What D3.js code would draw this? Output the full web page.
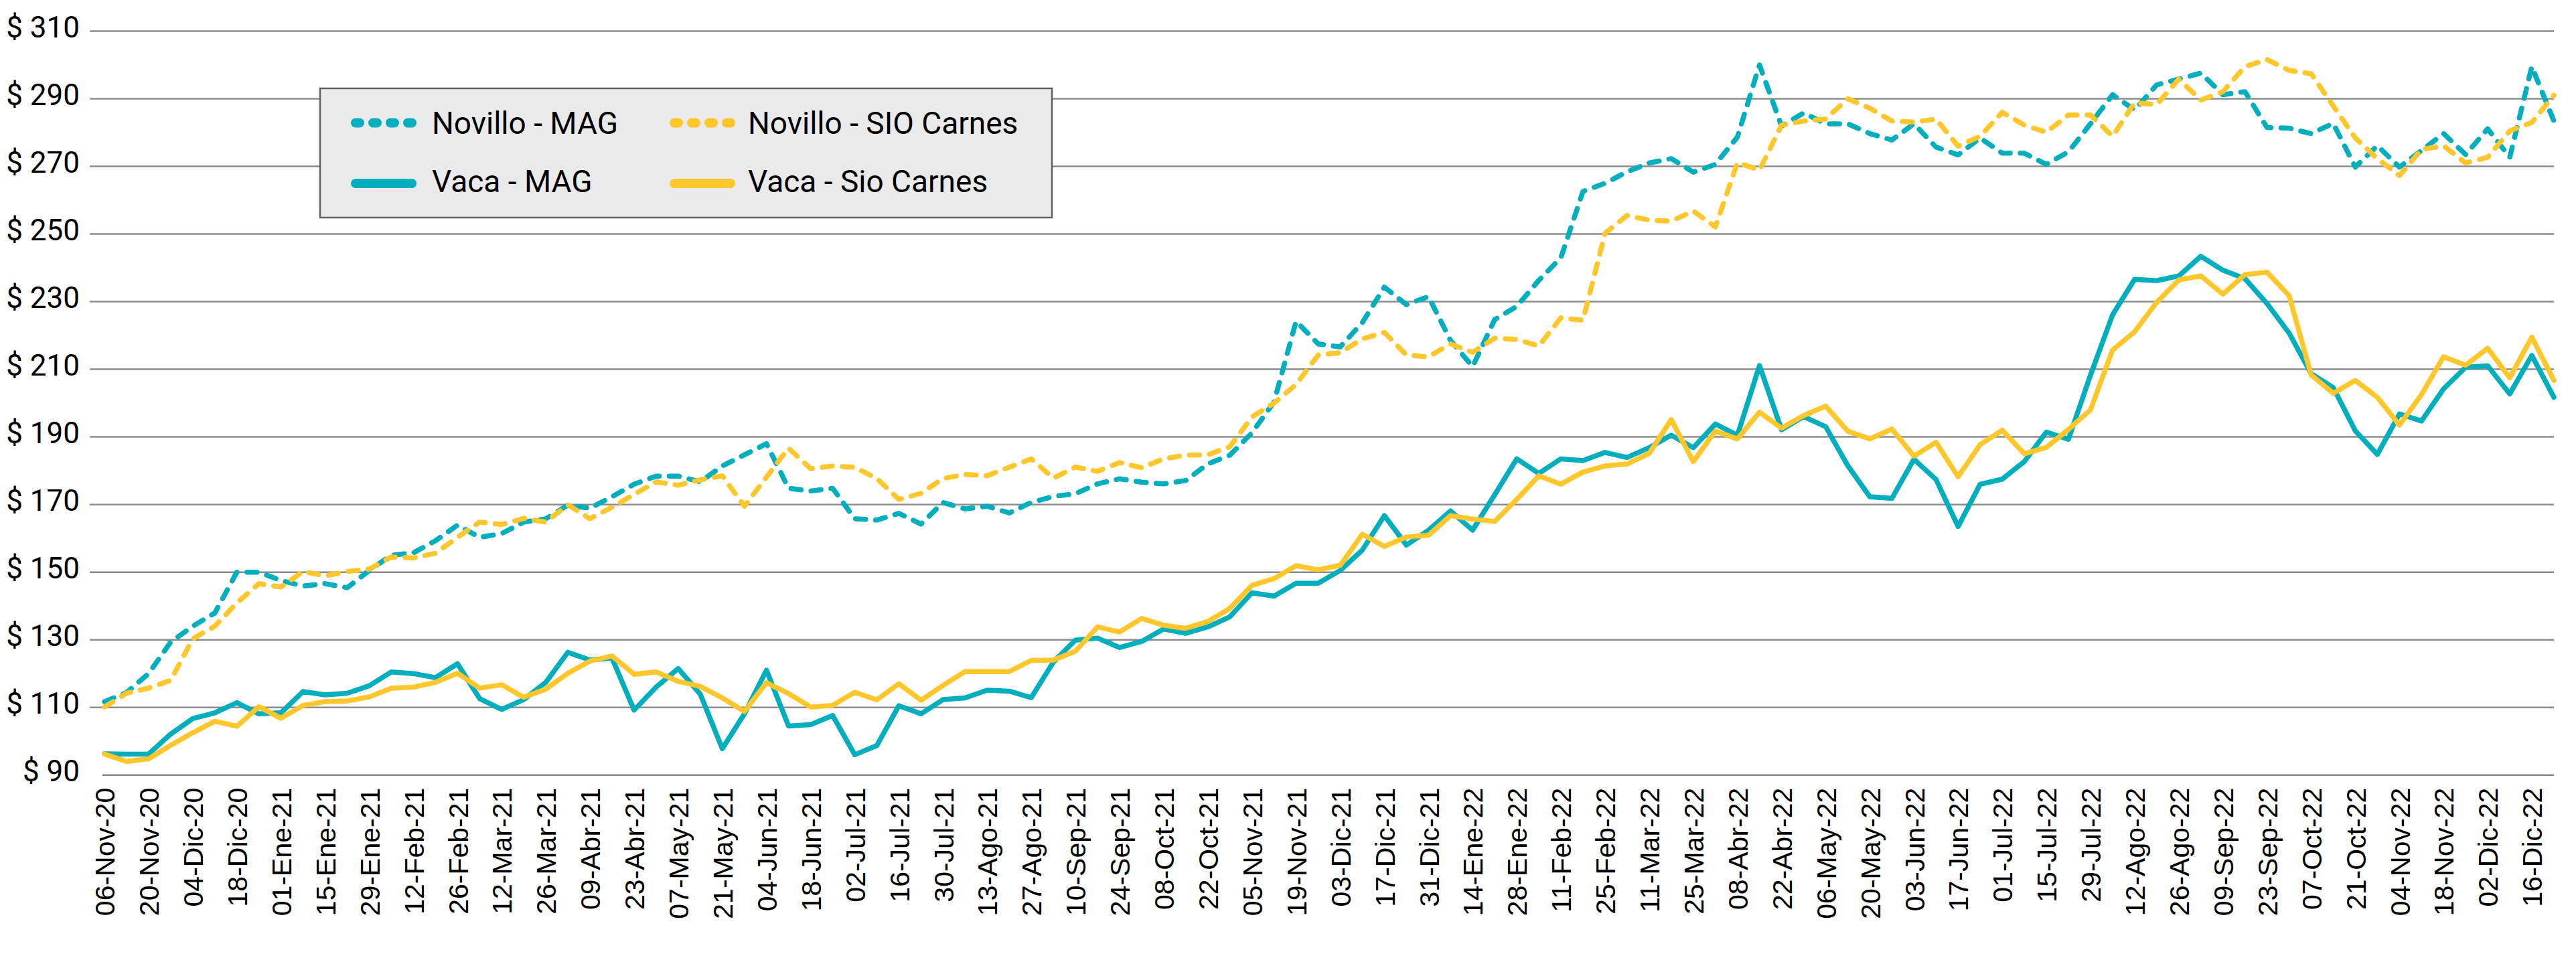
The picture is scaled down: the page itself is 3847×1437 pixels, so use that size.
<!DOCTYPE html>
<html>
<head>
<meta charset="utf-8">
<script src="https://cdn.jsdelivr.net/npm/d3@7"></script>
<style>
  html, body { margin: 0; padding: 0; background: #ffffff; }
  svg { display: block; }
</style>
</head>
<body>
<svg id="chart" width="3847" height="1437"></svg>
<script>
// ---------------- DATA ----------------
const categories = [
  "06-Nov-20","13-Nov-20","20-Nov-20","27-Nov-20","04-Dic-20","11-Dic-20","18-Dic-20","25-Dic-20",
  "01-Ene-21","08-Ene-21","15-Ene-21","22-Ene-21","29-Ene-21","05-Feb-21","12-Feb-21","19-Feb-21",
  "26-Feb-21","05-Mar-21","12-Mar-21","19-Mar-21","26-Mar-21","02-Abr-21","09-Abr-21","16-Abr-21",
  "23-Abr-21","30-Abr-21","07-May-21","14-May-21","21-May-21","28-May-21","04-Jun-21","11-Jun-21",
  "18-Jun-21","25-Jun-21","02-Jul-21","09-Jul-21","16-Jul-21","23-Jul-21","30-Jul-21","06-Ago-21",
  "13-Ago-21","20-Ago-21","27-Ago-21","03-Sep-21","10-Sep-21","17-Sep-21","24-Sep-21","01-Oct-21",
  "08-Oct-21","15-Oct-21","22-Oct-21","29-Oct-21","05-Nov-21","12-Nov-21","19-Nov-21","26-Nov-21",
  "03-Dic-21","10-Dic-21","17-Dic-21","24-Dic-21","31-Dic-21","07-Ene-22","14-Ene-22","21-Ene-22",
  "28-Ene-22","04-Feb-22","11-Feb-22","18-Feb-22","25-Feb-22","04-Mar-22","11-Mar-22","18-Mar-22",
  "25-Mar-22","01-Abr-22","08-Abr-22","15-Abr-22","22-Abr-22","29-Abr-22","06-May-22","13-May-22",
  "20-May-22","27-May-22","03-Jun-22","10-Jun-22","17-Jun-22","24-Jun-22","01-Jul-22","08-Jul-22",
  "15-Jul-22","22-Jul-22","29-Jul-22","05-Ago-22","12-Ago-22","19-Ago-22","26-Ago-22","02-Sep-22",
  "09-Sep-22","16-Sep-22","23-Sep-22","30-Sep-22","07-Oct-22","14-Oct-22","21-Oct-22","28-Oct-22",
  "04-Nov-22","11-Nov-22","18-Nov-22","25-Nov-22","02-Dic-22","09-Dic-22","16-Dic-22","23-Dic-22"
];

// Tick labels shown on the category axis (every second week)
const tickLabels = [
  "06-Nov-20","20-Nov-20","04-Dic-20","18-Dic-20","01-Ene-21","15-Ene-21","29-Ene-21","12-Feb-21",
  "26-Feb-21","12-Mar-21","26-Mar-21","09-Abr-21","23-Abr-21","07-May-21","21-May-21","04-Jun-21",
  "18-Jun-21","02-Jul-21","16-Jul-21","30-Jul-21","13-Ago-21","27-Ago-21","10-Sep-21","24-Sep-21",
  "08-Oct-21","22-Oct-21","05-Nov-21","19-Nov-21","03-Dic-21","17-Dic-21","31-Dic-21","14-Ene-22",
  "28-Ene-22","11-Feb-22","25-Feb-22","11-Mar-22","25-Mar-22","08-Abr-22","22-Abr-22","06-May-22",
  "20-May-22","03-Jun-22","17-Jun-22","01-Jul-22","15-Jul-22","29-Jul-22","12-Ago-22","26-Ago-22",
  "09-Sep-22","23-Sep-22","07-Oct-22","21-Oct-22","04-Nov-22","18-Nov-22","02-Dic-22","16-Dic-22"
];

const yTicks = [90, 110, 130, 150, 170, 190, 210, 230, 250, 270, 290, 310];

const novilloMAG = [
  111.7,114.4,120.0,129.3,134.0,137.9,150.0,150.0,147.5,145.9,146.6,145.4,150.5,155.0,155.7,159.3,
  163.9,160.3,161.4,164.8,165.8,169.8,168.9,172.3,176.0,178.4,178.4,176.7,181.4,184.7,188.0,174.8,
  174.0,174.8,165.8,165.4,167.4,164.2,170.6,168.7,169.5,167.5,170.6,172.4,173.2,176.1,177.6,176.6,
  176.1,177.1,182.0,184.6,191.2,200.3,224.2,217.5,216.6,223.8,234.3,229.1,231.5,218.5,210.8,224.7,
  228.6,236.3,243.0,262.6,265.0,268.4,271.0,272.3,268.3,270.6,278.7,300.0,281.9,285.8,282.6,282.6,
  279.7,277.8,282.6,275.7,273.4,278.4,273.9,273.9,270.6,274.3,282.6,291.2,286.7,294.1,295.8,297.6,
  291.2,292.1,281.5,281.3,279.7,282.7,269.8,276.1,269.8,274.7,279.7,273.5,281.1,272.7,299.5,283.4
];

const novilloSIO = [
  110.1,114.2,115.7,118.0,130.3,134.0,140.9,146.6,145.6,150.2,148.9,150.2,150.9,154.5,154.2,155.6,
  160.3,164.8,164.1,165.9,164.8,169.9,165.8,169.2,173.0,176.7,175.7,177.3,178.5,169.5,178.1,186.7,
  180.6,181.4,181.0,177.7,171.5,173.3,177.7,178.9,178.5,181.0,183.5,177.8,181.1,179.8,182.4,180.9,
  183.5,184.6,184.7,187.1,195.9,200.0,205.5,214.2,214.9,219.0,220.9,214.2,213.7,217.5,215.0,219.2,
  218.8,216.9,225.2,224.5,250.2,255.5,254.1,253.8,256.8,252.1,271.1,268.9,282.2,283.4,284.0,290.0,
  287.2,283.4,283.1,284.0,276.0,278.9,286.0,282.2,280.1,285.2,285.2,278.9,288.8,288.3,295.8,289.6,
  292.1,299.5,301.6,298.4,297.4,287.9,278.4,272.3,267.3,275.0,276.1,271.0,272.7,280.5,283.0,291.0
];

const vacaMAG = [
  96.3,96.2,96.2,102.1,106.7,108.4,111.4,108.1,108.4,114.7,113.7,114.2,116.4,120.5,120.0,118.8,
  122.9,112.6,109.4,112.3,117.4,126.3,124.0,124.6,109.2,116.0,121.5,113.9,97.8,108.1,121.0,104.5,
  104.9,107.6,96.0,98.7,110.5,108.1,112.3,112.8,115.1,114.8,112.9,123.4,129.9,130.5,127.7,129.5,
  133.2,131.9,133.8,136.8,143.9,142.9,146.7,146.7,150.5,156.5,166.7,158.0,162.4,168.1,162.4,172.9,
  183.5,179.2,183.5,183.0,185.4,183.9,186.8,190.5,186.8,193.8,190.5,211.1,192.1,196.0,193.0,181.5,
  172.3,171.8,183.4,177.4,163.5,176.0,177.5,182.7,191.4,189.3,208.3,226.1,236.6,236.2,237.6,243.4,
  239.3,236.8,229.4,220.7,208.7,204.6,191.8,184.8,196.8,194.7,204.2,210.6,211.0,202.7,214.1,201.7
];

const vacaSIO = [
  96.2,94.0,94.8,98.8,102.5,105.9,104.4,110.2,106.8,110.6,111.7,111.9,113.1,115.7,116.0,117.4,
  120.1,115.7,116.7,113.0,115.4,120.1,123.7,125.2,119.8,120.5,117.7,116.2,112.8,108.8,117.3,114.1,
  110.1,110.6,114.5,112.2,117.0,112.1,116.5,120.6,120.6,120.6,123.9,124.0,126.6,133.8,132.3,136.3,
  134.3,133.4,135.4,139.3,146.1,148.1,151.9,150.7,152.0,161.2,157.6,160.4,160.9,166.7,165.7,165.0,
  171.5,178.5,176.0,179.6,181.4,182.0,185.1,195.1,182.7,191.7,189.4,197.3,192.6,196.3,199.1,191.7,
  189.4,192.3,184.3,188.4,178.2,187.7,192.0,185.0,186.9,192.2,198.0,215.7,221.1,229.8,236.4,237.6,
  232.2,238.0,238.7,231.8,208.3,202.9,206.7,201.7,193.5,202.5,213.7,211.2,216.2,207.5,219.5,206.7
];

const seriesNames = ["Novillo - MAG", "Novillo - SIO Carnes", "Vaca - MAG", "Vaca - Sio Carnes"];

// ---------------- STYLE ----------------
const TEAL = "#00AEBD";
const GOLD = "#FFC72C";

const series = [
  { name: seriesNames[0], values: novilloMAG, color: TEAL, dashed: true },
  { name: seriesNames[1], values: novilloSIO, color: GOLD, dashed: true },
  { name: seriesNames[2], values: vacaMAG,    color: TEAL, dashed: false },
  { name: seriesNames[3], values: vacaSIO,    color: GOLD, dashed: false }
];

const svg = d3.select("#chart");
svg.append("rect").attr("width", 3847).attr("height", 1437).attr("fill", "#ffffff");

const gridLeft = 134, axisLeft = 153, plotRight = 3814;
const x = d3.scalePoint().domain(categories).range([156, 3814]);
const y = d3.scaleLinear().domain([90, 310]).range([1157.7, 46.5]);

// Gridlines
svg.append("g")
  .selectAll("line")
  .data(yTicks.filter(d => d !== 90))
  .join("line")
  .attr("x1", gridLeft).attr("x2", plotRight)
  .attr("y1", d => y(d)).attr("y2", d => y(d))
  .attr("stroke", "#8c8c8c").attr("stroke-width", 2.5);

// Bottom axis line
svg.append("line")
  .attr("x1", axisLeft).attr("x2", plotRight)
  .attr("y1", y(90)).attr("y2", y(90))
  .attr("stroke", "#8c8c8c").attr("stroke-width", 2.5);

// Y axis labels
const yAxis = d3.axisLeft(y).tickValues(yTicks).tickSize(0).tickPadding(0)
  .tickFormat(d => "$ " + d);
const gy = svg.append("g").attr("transform", "translate(119,0)").call(yAxis);
gy.select(".domain").remove();
gy.selectAll("text")
  .attr("font-family", "Roboto, 'Noto Sans', sans-serif")
  .attr("font-size", 44)
  .attr("fill", "#000")
  .attr("dy", 9)
  .attr("x", 0)
  .attr("text-anchor", "end");

// X axis labels
const xAxis = d3.axisBottom(x).tickValues(tickLabels).tickSize(0).tickPadding(0);
const gx = svg.append("g").attr("transform", `translate(0,${y(90)})`).call(xAxis);
gx.select(".domain").remove();
gx.selectAll("text")
  .attr("font-family", "'Liberation Sans', Arial, sans-serif")
  .attr("font-size", 41)
  .attr("fill", "#000")
  .attr("transform", "rotate(-90)")
  .attr("x", -19)
  .attr("y", 0)
  .attr("dy", "0.36em")
  .attr("text-anchor", "end");

// Lines
const line = d3.line()
  .x((d, i) => x(categories[i]))
  .y(d => y(d));

svg.append("g")
  .selectAll("path")
  .data(series)
  .join("path")
  .attr("d", s => line(s.values))
  .attr("fill", "none")
  .attr("stroke", s => s.color)
  .attr("stroke-width", 7.5)
  .attr("stroke-linejoin", "round")
  .attr("stroke-linecap", s => s.dashed ? "round" : "round")
  .attr("stroke-dasharray", s => s.dashed ? "15,15" : null);

// Legend
const legend = svg.append("g");
legend.append("rect")
  .attr("x", 478).attr("y", 132).attr("width", 1093).attr("height", 193)
  .attr("fill", "#EAEAEA").attr("stroke", "#606060").attr("stroke-width", 2.5);

const legendPos = [
  { sx: 531, tx: 645, cy: 183.5, by: 199.5 },
  { sx: 1007, tx: 1117, cy: 183.5, by: 199.5 },
  { sx: 531, tx: 645, cy: 274, by: 287 },
  { sx: 1007, tx: 1117, cy: 274, by: 287 }
];

series.forEach((s, i) => {
  const p = legendPos[i];
  legend.append("line")
    .attr("x1", p.sx).attr("x2", p.sx + 84)
    .attr("y1", p.cy).attr("y2", p.cy)
    .attr("stroke", s.color)
    .attr("stroke-width", 14)
    .attr("stroke-linecap", "round")
    .attr("stroke-dasharray", s.dashed ? "6,20" : null);
  legend.append("text")
    .attr("x", p.tx).attr("y", p.by)
    .attr("font-family", "Roboto, 'Noto Sans', sans-serif")
    .attr("font-size", 46)
    .attr("fill", "#000")
    .text(s.name);
});
</script>
</body>
</html>
